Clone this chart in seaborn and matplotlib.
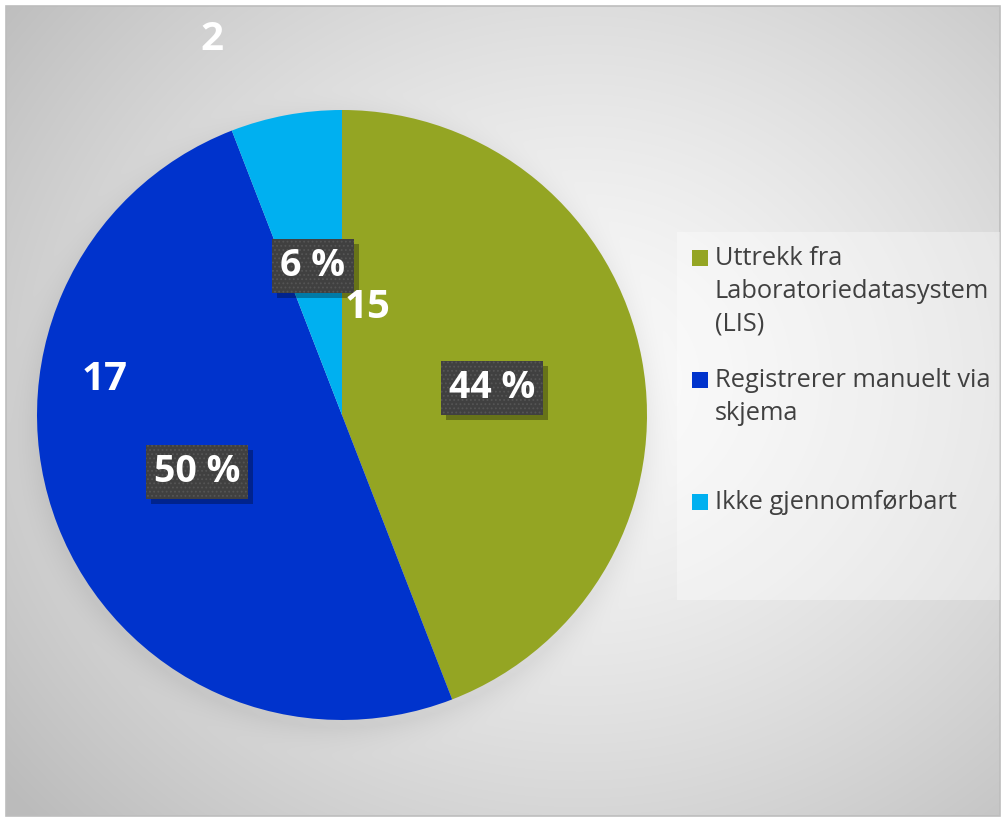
import numpy as np
import matplotlib
matplotlib.use("Agg")
import matplotlib.pyplot as plt
from matplotlib.patches import Rectangle
from matplotlib.transforms import IdentityTransform
import seaborn as sns

# Survey answers: how the lab reports its data
categories = ["Uttrekk fra\nLaboratoriedatasystem\n(LIS)",
              "Registrerer manuelt via\nskjema",
              "Ikke gjennomførbart"]
counts = [15, 17, 2]

sns.set_theme(style="white")
plt.rcParams["font.family"] = ["Open Sans", "DejaVu Sans"]
plt.rcParams["hatch.linewidth"] = 0.8

palette = sns.color_palette(["#94A523", "#0033CC", "#00B0F0"])

W, H = 1002, 819
fig = plt.figure(figsize=(W / 100, H / 100), dpi=100)
fig.patch.set_facecolor("white")

# ---- background: framed radial gradient with a soft shadow under the pie
bg = fig.add_axes([0, 0, 1, 1])
bg.set_xlim(0, W)
bg.set_ylim(H, 0)
bg.axis("off")

fx0, fy0, fx1, fy1 = 6, 6, 1000, 816
xs = np.arange(fx0, fx1) + 0.5
ys = np.arange(fy0, fy1) + 0.5
X, Y = np.meshgrid(xs, ys)
gcx, gcy = 580, 380
r = np.sqrt(((X - gcx) / 640) ** 2 + ((Y - gcy) / 560) ** 2)
shade = 0.98 - 0.2 * np.clip(r, 0, 1.15) ** 1.4

pcx, pcy, pr = 342, 415, 305
d = np.sqrt((X - pcx) ** 2 + (Y - (pcy + 8)) ** 2) - pr
halo = np.clip(1 - d / 32, 0, 1) ** 2
shade = shade - 0.05 * halo
img = np.dstack([shade] * 3)
bg.imshow(img, extent=(fx0, fx1, fy1, fy0), interpolation="bilinear", zorder=0)
bg.add_patch(Rectangle((fx0, fy0), fx1 - fx0, fy1 - fy0, fill=False,
                       edgecolor="#bdbdbd", linewidth=1.2, zorder=1))

# ---- legend panel
bg.add_patch(Rectangle((677, 232), fx1 - 677, 368, facecolor="white",
                       alpha=0.35, edgecolor="none", zorder=2))
entry_tops = [258, 380, 502]
for lab, col, ty in zip(categories, palette, entry_tops):
    bg.add_patch(Rectangle((692, ty - 8), 16, 16, facecolor=col,
                           edgecolor="none", zorder=3))
    bg.text(715, ty - 12, lab, fontsize=18.3, color="#404040",
            ha="left", va="top", linespacing=1.4, zorder=4)

# ---- pie
ax = fig.add_axes([(pcx - pr) / W, (H - pcy - pr) / H, 2 * pr / W, 2 * pr / H])
wedges, _ = ax.pie(counts, colors=palette, startangle=90, counterclock=False,
                   radius=1, wedgeprops=dict(linewidth=0))
ax.set_xlim(-1, 1)
ax.set_ylim(-1, 1)
ax.set_aspect("equal")
ax.axis("off")


def to_data(px, py):
    return (px - pcx) / pr, (pcy - py) / pr


total = sum(counts)
count_pos = [(368, 308), (105, 380), (212, 40)]
pct_pos = [(492, 388), (197, 472), (313, 266)]

pct_texts = []
for v, cp, pp in zip(counts, count_pos, pct_pos):
    x, y = to_data(*cp)
    ax.text(x, y, f"{v}", color="white", fontsize=29, fontweight="bold",
            ha="center", va="center", clip_on=False, zorder=8)
    x, y = to_data(*pp)
    t = ax.text(x, y, f"{round(100 * v / total)} %", color="white",
                fontsize=27, fontweight="bold", ha="center", va="center",
                clip_on=False, zorder=7,
                bbox=dict(boxstyle="square,pad=0.22", facecolor="#404040",
                          edgecolor="#555555", linewidth=0, hatch="...."))
    pct_texts.append(t)

# drop shadows behind the percentage boxes
fig.canvas.draw()
renderer = fig.canvas.get_renderer()
for t in pct_texts:
    ext = t.get_bbox_patch().get_window_extent(renderer)
    ax.add_patch(Rectangle((ext.x0 + 5, ext.y0 - 5), ext.width, ext.height,
                           transform=IdentityTransform(), facecolor="black",
                           alpha=0.3, edgecolor="none", zorder=6,
                           clip_on=False))

fig.savefig("out.png", dpi=100, facecolor="white")
